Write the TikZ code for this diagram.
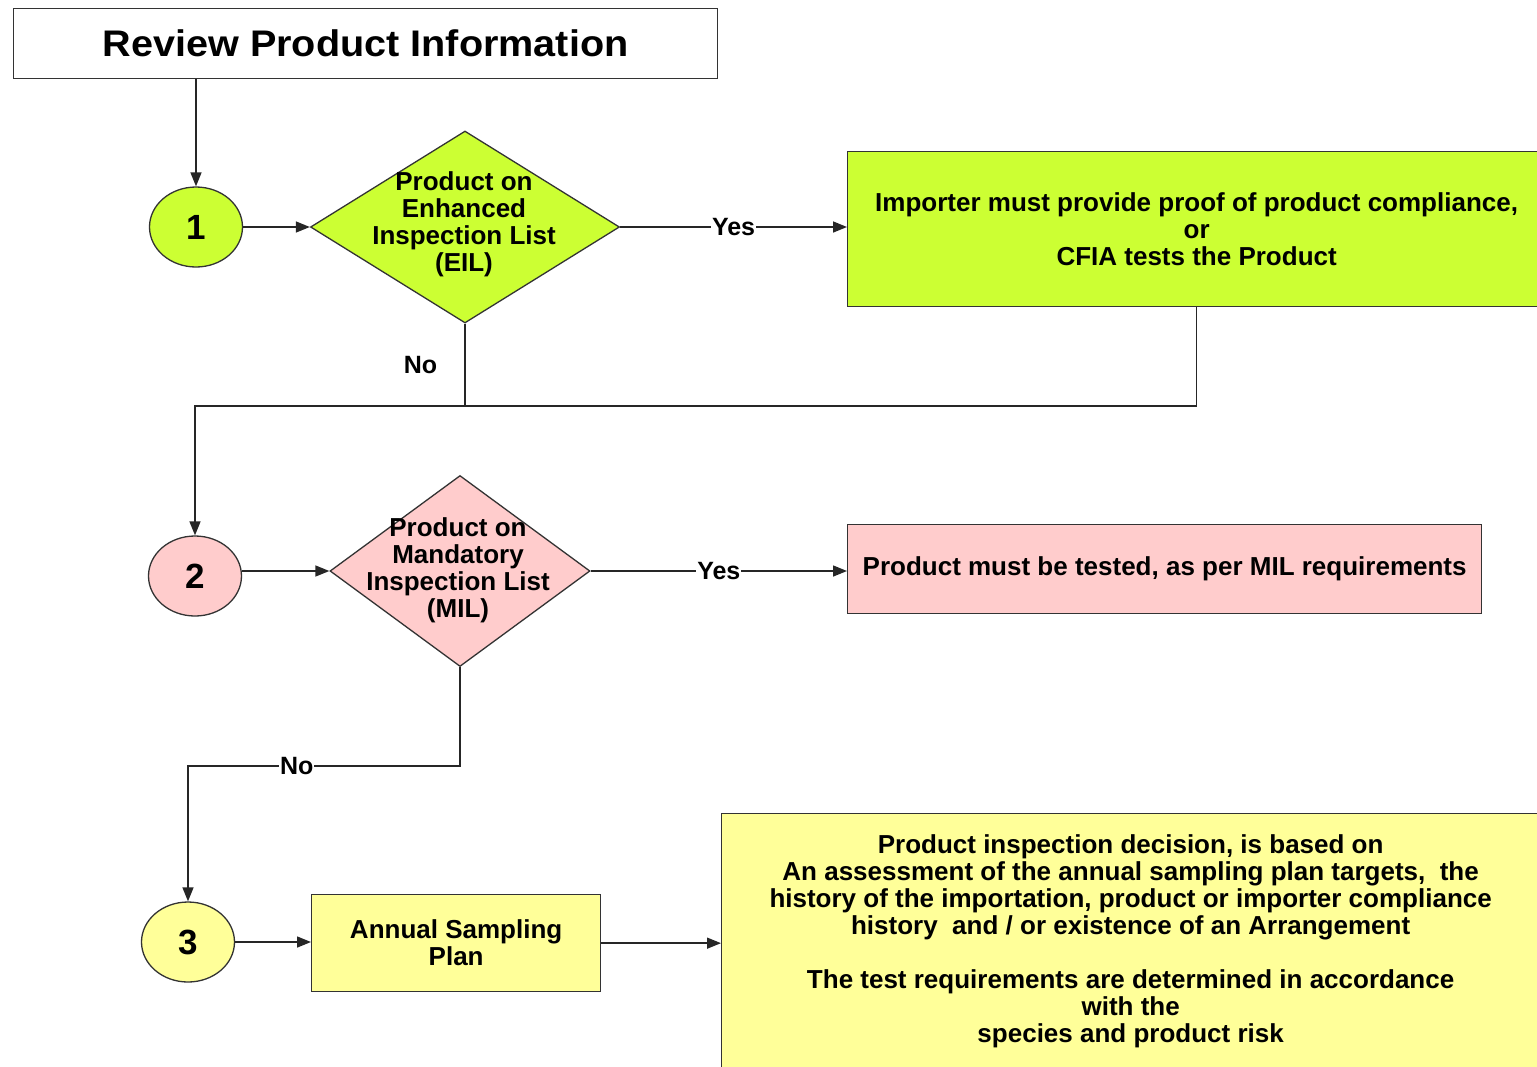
\documentclass[tikz,border=0pt]{standalone}
\usepackage{fontspec}
\setmainfont{Liberation Sans}
\newfontfamily\titlefont[FakeStretch=1.07]{Liberation Sans}
\usetikzlibrary{shapes.geometric,arrows.meta}
\definecolor{lime}{HTML}{CCFF33}
\definecolor{pinkf}{HTML}{FFCCCC}
\definecolor{yell}{HTML}{FFFF99}
\definecolor{edge}{HTML}{333333}
\begin{document}
\begin{tikzpicture}[x=1pt,y=-1pt,
 every node/.style={font=\bfseries\fontsize{26}{27}\selectfont},
 boxs/.style={draw=edge, line width=1.3pt, rectangle, inner sep=0pt, align=center},
 circs/.style={draw=edge, line width=1.3pt, ellipse, minimum width=93pt, minimum height=80pt, inner sep=0pt, font=\bfseries\fontsize{35}{35}\selectfont},
 dia/.style={draw=edge, line width=1.3pt, diamond, inner sep=0pt},
 conn/.style={draw=black!85, line width=1.5pt},
 arr/.style={conn, -{Triangle[length=14pt,width=11pt]}},
 lab/.style={fill=white, inner sep=1pt, font=\bfseries\fontsize{25}{27}\selectfont}
]
\useasboundingbox (0,0) rectangle (1537,1066);
\clip (0,0) rectangle (1537,1066);
\fill[white] (0,0) rectangle (1537,1066);

\node[boxs, fill=white, minimum width=704pt, minimum height=70pt, anchor=north west, font=\titlefont\bfseries\fontsize{37}{40}\selectfont] (title) at (13,8) {Review Product Information};

\node[circs, fill=lime] (c1) at (196,227) {1};
\node[dia, fill=lime, minimum width=309pt, minimum height=192pt] (d1) at (465,227) {};
\node[align=center] (d1t) at (464,224) {Product on\\Enhanced\\Inspection List\\(EIL)};
\node[boxs, fill=lime, minimum width=698pt, minimum height=155pt, anchor=north west] (b1) at (847,151) {Importer must provide proof of product compliance,\\or\\CFIA tests the Product};

\node[circs, fill=pinkf] (c2) at (195,576) {2};
\node[dia, fill=pinkf, minimum width=260pt, minimum height=191pt] (d2) at (460,571) {};
\node[align=center] (d2t) at (458,570) {Product on\\Mandatory\\Inspection List\\(MIL)};
\node[boxs, fill=pinkf, minimum width=634pt, minimum height=89pt, anchor=north west] (b2) at (847,524) {Product must be tested, as per MIL requirements};

\node[circs, fill=yell] (c3) at (188,942) {3};
\node[boxs, fill=yell, minimum width=289pt, minimum height=97pt, anchor=north west] (asp) at (311,894) {Annual Sampling\\Plan};
\node[boxs, fill=yell, minimum width=818pt, minimum height=255pt, anchor=north west] (big) at (721,813) {Product inspection decision, is based on\\An assessment of the annual sampling plan targets,\ \ the\\history of the importation, product or importer compliance\\history\ \ and / or existence of an Arrangement\\[27pt]The test requirements are determined in accordance\\with the\\species and product risk};

% connectors
\draw[arr] (title.south -| c1) -- (c1.north);
\draw[arr] (c1.east) -- (c1.east -| d1.west);
\draw[arr] (d1.east) -- node[lab]{Yes} (d1.east -| b1.west);
\coordinate (j1) at (464,406);
\draw[conn] (d1.south) -- node[lab, fill=none, anchor=east, xshift=-26pt]{No} (d1.south |- j1);
\draw[arr] (b1.south) |- (c2.north |- j1) -- (c2.north);
\draw[arr] (c2.east |- d2.west) -- (d2.west);
\draw[arr] (d2.east) -- node[lab]{Yes} (d2.east -| b2.west);
\coordinate (k1) at (458,766);
\coordinate (k2) at (188,766);
\draw[arr] (d2.south) -- (d2.south |- k1) -- node[lab, pos=0.6]{No} (k2) -- (c3.north);
\draw[arr] (c3.east) -- (c3.east -| asp.west);
\draw[arr] (asp.east) -- (asp.east -| big.west);
\end{tikzpicture}
\end{document}
